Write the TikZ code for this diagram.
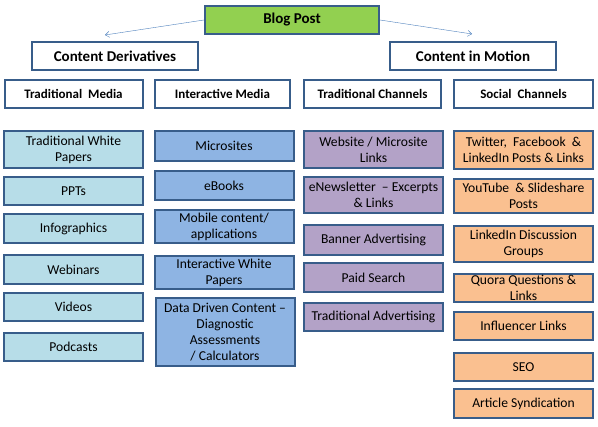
\documentclass[tikz,border=0pt]{standalone}
\usepackage{fontspec}
\setmainfont{Carlito}
\usepackage{tikz}
\usetikzlibrary{arrows.meta}

\definecolor{blogg}{HTML}{92D050}
\definecolor{lblue}{HTML}{B7DDE8}
\definecolor{mblue}{HTML}{8EB4E3}
\definecolor{lilac}{HTML}{B3A2C7}
\definecolor{peach}{HTML}{FAC090}
\definecolor{edge}{HTML}{385D8A}
\definecolor{link}{HTML}{4F81BD}

\begin{document}
\begin{tikzpicture}[x=1pt,y=-1pt,
  box/.style={draw=edge,line width=2pt,align=center,inner sep=1pt,
    font=\fontsize{13.6}{16}\selectfont},
  head/.style={box,fill=white,font=\fontsize{13}{16}\selectfont\bfseries},
  item/.style={box,minimum width=139pt}]
\useasboundingbox (0,0) rectangle (598,427);

% Top level
\node[head,fill=blogg,minimum width=174pt,minimum height=28pt,
  font=\fontsize{15}{18}\selectfont\bfseries] (blog) at (292,20) {Blog Post};
\node[head,minimum width=166pt,minimum height=28pt,
  font=\fontsize{15}{18}\selectfont\bfseries] (deriv) at (115,56) {Content Derivatives};
\node[head,minimum width=166pt,minimum height=28pt,
  font=\fontsize{15}{18}\selectfont\bfseries] (motion) at (473,56) {Content in Motion};

\draw[link,-{Straight Barb[length=4pt,width=6pt]}] (blog.west) -- ([xshift=-10pt,yshift=6pt]deriv.north);
\draw[link,-{Straight Barb[length=4pt,width=6pt]}] (blog.east) -- ([xshift=-1pt,yshift=7pt]motion.north);

% Second level
\node[head,minimum width=138pt,minimum height=28pt] (tradmedia) at (73.5,94) {Traditional~~Media};
\node[head,minimum width=135pt,minimum height=28pt] (intmedia) at (222.5,94) {Interactive Media};
\node[head,minimum width=137pt,minimum height=28pt] (tradchan) at (372.5,94) {Traditional Channels};
\node[head,minimum width=139pt,minimum height=28pt] (socchan) at (523.5,94) {Social~ Channels};

% Traditional media
\node[item,fill=lblue,minimum height=37pt] (whitepapers) at (73.5,149.5) {Traditional White\\Papers};
\node[item,fill=lblue,minimum height=28pt] (ppts) at (73.5,191) {PPTs};
\node[item,fill=lblue,minimum height=29pt] (infographics) at (73.5,228.5) {Infographics};
\node[item,fill=lblue,minimum height=29pt] (webinars) at (73.5,269.5) {Webinars};
\node[item,fill=lblue,minimum height=28pt] (videos) at (73.5,307) {Videos};
\node[item,fill=lblue,minimum height=28pt] (podcasts) at (73.5,347) {Podcasts};

% Interactive media
\node[item,fill=mblue,minimum height=30pt] (microsites) at (224,146) {Microsites};
\node[item,fill=mblue,minimum height=29pt] (ebooks) at (224,185.5) {eBooks};
\node[item,fill=mblue,minimum height=33pt] (mobile) at (224,226.5) {Mobile content/\\applications};
\node[item,fill=mblue,minimum height=33pt] (intwhite) at (224,272.5) {Interactive White\\Papers};
\node[item,fill=mblue,minimum height=68pt] (datadriven) at (225,332) {Data Driven Content --\\Diagnostic\\Assessments\\/ Calculators};

% Traditional channels
\node[item,fill=lilac,minimum height=37pt] (website) at (373.5,149.5) {Website / Microsite\\Links};
\node[item,fill=lilac,minimum height=36pt] (enews) at (373.5,195) {eNewsletter~ -- Excerpts\\\& Links};
\node[item,fill=lilac,minimum height=30pt] (banner) at (373.5,240) {Banner Advertising};
\node[item,fill=lilac,minimum height=29pt] (paidsearch) at (373.5,277.5) {Paid Search};
\node[item,fill=lilac,minimum height=28pt] (tradadv) at (373.5,317) {Traditional Advertising};

% Social channels
\node[item,fill=peach,minimum height=38pt] (twitter) at (523.5,150) {Twitter,~ Facebook~ \&\\LinkedIn Posts \& Links};
\node[item,fill=peach,minimum height=34pt] (youtube) at (523.5,196) {YouTube~ \& Slideshare\\Posts};
\node[item,fill=peach,minimum height=36pt] (linkedin) at (523.5,244) {LinkedIn Discussion\\Groups};
\node[item,fill=peach,minimum height=28pt] (quora) at (523.5,288) {Quora Questions \&\\Links};
\node[item,fill=peach,minimum height=28pt] (influencer) at (523.5,326) {Influencer Links};
\node[item,fill=peach,minimum height=28pt] (seo) at (523.5,367) {SEO};
\node[item,fill=peach,minimum height=29pt] (article) at (523.5,403.5) {Article Syndication};
\end{tikzpicture}
\end{document}
